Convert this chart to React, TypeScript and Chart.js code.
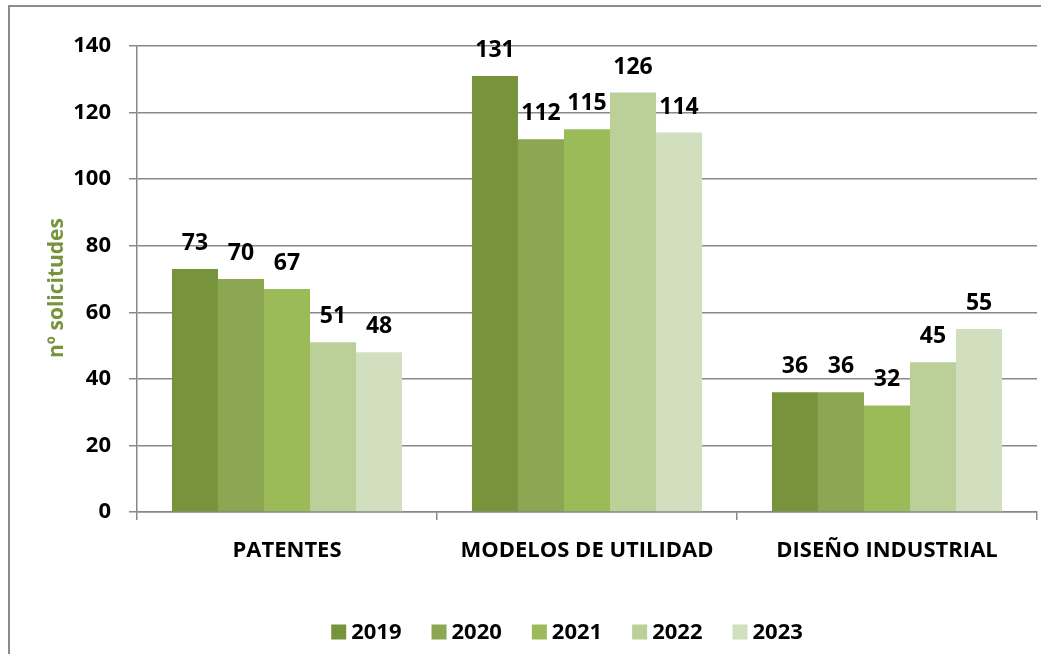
import React, { useEffect, useRef } from "react";
import { Chart, registerables } from "chart.js";

Chart.register(...registerables);

const categories = ["PATENTES", "MODELOS DE UTILIDAD", "DISEÑO INDUSTRIAL"];
const years = ["2019", "2020", "2021", "2022", "2023"];
const values2019 = [73, 131, 36];
const values2020 = [70, 112, 36];
const values2021 = [67, 115, 32];
const values2022 = [51, 126, 45];
const values2023 = [48, 114, 55];
const yTicks = [0, 20, 40, 60, 80, 100, 120, 140];
const yTitle = "nº solicitudes";

const seriesValues = [values2019, values2020, values2021, values2022, values2023];
const colors = ["#77933C", "#8BA751", "#9BBB59", "#BBCF98", "#D2DFBF"];
const FONT = "'Open Sans', 'DejaVu Sans', sans-serif";

const decorPlugin = {
  id: "decor",
  beforeDraw(chart: any) {
    const ctx = chart.ctx;
    ctx.save();
    ctx.strokeStyle = "#8c8c8c";
    ctx.lineWidth = 2;
    ctx.strokeRect(9, 6, 1200, 1000);
    ctx.restore();
  },
  afterDatasetsDraw(chart: any) {
    const ctx = chart.ctx;
    ctx.save();
    ctx.font = `bold 23px ${FONT}`;
    ctx.fillStyle = "#000";
    ctx.textAlign = "center";
    ctx.textBaseline = "alphabetic";
    chart.data.datasets.forEach((ds: any, i: number) => {
      const meta = chart.getDatasetMeta(i);
      meta.data.forEach((el: any, j: number) => {
        ctx.fillText(String(ds.data[j]), el.x, el.y - 19);
      });
    });
    ctx.restore();
  },
  afterDraw(chart: any) {
    const ctx = chart.ctx;
    ctx.save();
    // y title
    ctx.translate(57, 288);
    ctx.rotate(-Math.PI / 2);
    ctx.font = `bold 21px ${FONT}`;
    ctx.fillStyle = "#77933C";
    ctx.textAlign = "center";
    ctx.textBaseline = "middle";
    ctx.fillText(yTitle, 0, 0);
    ctx.restore();

    // legend
    ctx.save();
    ctx.font = `bold 22px ${FONT}`;
    ctx.textBaseline = "middle";
    ctx.textAlign = "left";
    const box = 15;
    const gap = 5;
    const spacing = 30;
    const widths = chart.data.datasets.map((d: any) => ctx.measureText(d.label).width);
    const total =
      widths.reduce((a: number, w: number) => a + box + gap + w, 0) + spacing * (widths.length - 1);
    let x = 567 - total / 2;
    const cy = 632;
    chart.data.datasets.forEach((d: any, i: number) => {
      ctx.fillStyle = d.backgroundColor;
      ctx.fillRect(x, cy - box / 2, box, box);
      ctx.fillStyle = "#000";
      ctx.fillText(d.label, x + box + gap, cy + 1);
      x += box + gap + widths[i] + spacing;
    });
    ctx.restore();
  },
};

export default function App() {
  const ref = useRef<HTMLCanvasElement>(null);
  useEffect(() => {
    const chart = new Chart(ref.current as HTMLCanvasElement, {
      type: "bar",
      data: {
        labels: categories,
        datasets: years.map((y, i) => ({
          label: y,
          data: seriesValues[i],
          backgroundColor: colors[i],
          borderWidth: 0,
          barPercentage: 1,
          categoryPercentage: 0.767,
        })),
      },
      options: {
        responsive: false,
        animation: false,
        layout: { padding: { top: 46, right: 4, left: 0, bottom: 82 } },
        plugins: { legend: { display: false }, tooltip: { enabled: false } },
        scales: {
          x: {
            grid: {
              drawOnChartArea: false,
              drawTicks: true,
              tickLength: 8,
              color: "#888",
              lineWidth: 1.5,
              offset: true,
            },
            border: { display: true, color: "#888", width: 1.5 },
            ticks: {
              color: "#000",
              font: { family: FONT, size: 22, weight: "bold" },
              padding: 18,
              maxRotation: 0,
            },
            afterFit: (s: any) => {
              s.height = 60;
            },
          },
          y: {
            min: 0,
            max: 140,
            afterBuildTicks: (s: any) => {
              s.ticks = yTicks.map((v) => ({ value: v }));
            },
            grid: { color: "#888", lineWidth: 1.5, tickLength: 8, drawTicks: true },
            border: { display: true, color: "#888", width: 1.5 },
            ticks: {
              color: "#000",
              font: { family: FONT, size: 22, weight: "bold" },
              padding: 18,
            },
            afterFit: (s: any) => {
              s.width = 137;
            },
          },
        },
      },
      plugins: [decorPlugin],
    });
    return () => chart.destroy();
  }, []);
  return (
    <div style={{ position: "absolute", left: 0, top: 0, width: 1041, height: 654 }}>
      <canvas ref={ref} width={1041} height={654} />
    </div>
  );
}
